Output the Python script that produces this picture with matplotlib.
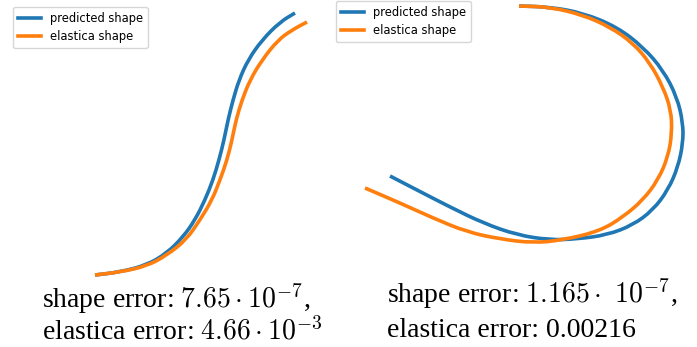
import matplotlib
matplotlib.use("Agg")
import matplotlib.pyplot as plt
import numpy as np
from matplotlib.path import Path
from matplotlib.patches import PathPatch
from matplotlib.lines import Line2D

# Shapes, in pixel units (x right, y down)
LEFT_PRED_X = [295, 280, 262, 248, 239, 233, 228, 224, 219, 213, 205, 195, 183, 167, 147, 120, 95]
LEFT_PRED_Y = [13, 22, 40, 60, 80, 100, 120, 140, 160, 180, 200, 220, 237, 253, 265, 272, 275]
LEFT_ELAS_X = [307, 292, 278, 262, 250, 242, 236, 232, 227, 220, 212, 200, 186, 167, 147, 120, 95]
LEFT_ELAS_Y = [22, 30, 40, 60, 80, 100, 120, 140, 160, 180, 200, 220, 240, 255, 266, 272, 275]

RIGHT_PRED_X = [390, 417, 450, 483, 517, 550, 577, 607, 633, 653, 668, 678, 683, 683, 677, 663, 643, 617, 583, 550, 519]
RIGHT_PRED_Y = [176, 190, 207, 223, 235, 240, 239, 235, 225, 210, 190, 167, 143, 123, 97, 70, 47, 27, 13, 7, 6]
RIGHT_ELAS_X = [365, 400, 433, 467, 500, 533, 563, 600, 623, 643, 658, 668, 672, 671, 663, 650, 633, 610, 583, 550, 519]
RIGHT_ELAS_Y = [188, 203, 218, 232, 239, 243, 240, 231, 217, 200, 180, 157, 133, 110, 87, 63, 43, 27, 15, 7, 6]

LABELS = ["predicted shape", "elastica shape"]
CAPTIONS_LEFT = [r"shape error: $7.65 \cdot 10^{-7}$,", r"elastica error: $4.66 \cdot 10^{-3}$"]
CAPTIONS_RIGHT = [r"shape error: $1.165 \cdot\ 10^{-7}$,", "elastica error: 0.00216"]

BLUE = "#1f77b4"
ORANGE = "#ff7f0e"
W, H = 697, 347
plt.rcParams["mathtext.fontset"] = "cm"


def smooth_curve(ax, xs, ys, color, lw=2.6):
    """draw the traced points as one smooth path (quadratic pieces through the midpoints)"""
    pts = np.column_stack([xs, ys]).astype(float)
    mids = (pts[:-1] + pts[1:]) / 2
    verts = [pts[0], mids[0]]
    codes = [Path.MOVETO, Path.LINETO]
    for i in range(1, len(pts) - 1):
        verts += [pts[i], mids[i]]
        codes += [Path.CURVE3, Path.CURVE3]
    verts.append(pts[-1])
    codes.append(Path.LINETO)
    ax.add_patch(PathPatch(Path(verts, codes), fill=False, edgecolor=color, lw=lw,
                           capstyle="butt", joinstyle="round"))


fig = plt.figure(figsize=(W / 100, H / 100), dpi=100)
ax1 = fig.add_axes([0, 0, 0.5, 1])
ax2 = fig.add_axes([0.5, 0, 0.5, 1])
ax1.set_xlim(0, W / 2)
ax2.set_xlim(W / 2, W)
for ax in (ax1, ax2):
    ax.set_ylim(H, 0)
    ax.axis("off")

smooth_curve(ax1, LEFT_PRED_X, LEFT_PRED_Y, BLUE)
smooth_curve(ax1, LEFT_ELAS_X, LEFT_ELAS_Y, ORANGE)
smooth_curve(ax2, RIGHT_PRED_X, RIGHT_PRED_Y, BLUE)
smooth_curve(ax2, RIGHT_ELAS_X, RIGHT_ELAS_Y, ORANGE)

handles = [Line2D([], [], color=BLUE, lw=2.6), Line2D([], [], color=ORANGE, lw=2.6)]
ax1.legend(handles, LABELS, loc="upper left", bbox_to_anchor=(13 / W, 1 - 7 / H),
           bbox_transform=fig.transFigure, borderaxespad=0, fontsize=8.3)
ax2.legend(handles, LABELS, loc="upper left", bbox_to_anchor=(336 / W, 1 - 1 / H),
           bbox_transform=fig.transFigure, borderaxespad=0, fontsize=8.3)

fs = 20
fig.text(42 / W, 1 - 308 / H, CAPTIONS_LEFT[0], family="Liberation Serif", fontsize=fs, va="baseline")
fig.text(42 / W, 1 - 340 / H, CAPTIONS_LEFT[1], family="Liberation Serif", fontsize=fs, va="baseline")
fig.text(387 / W, 1 - 303 / H, CAPTIONS_RIGHT[0], family="Liberation Serif", fontsize=fs, va="baseline")
fig.text(387 / W, 1 - 337 / H, CAPTIONS_RIGHT[1], family="Liberation Serif", fontsize=fs, va="baseline")

fig.savefig("out.png", dpi=100)
